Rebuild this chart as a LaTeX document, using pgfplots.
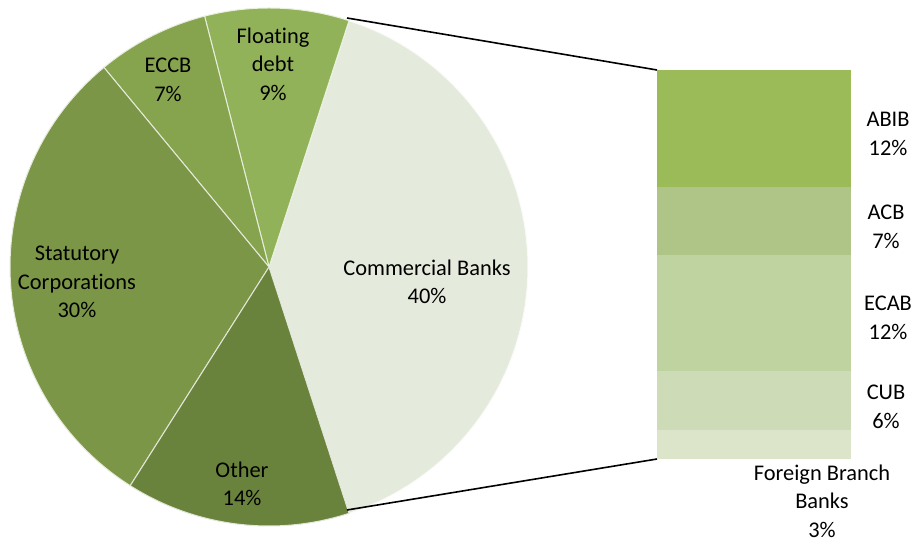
\documentclass[border=0pt]{standalone}
\usepackage{pgfplots}
\pgfplotsset{compat=1.18}
\usepackage{fontspec}
\setmainfont[Ligatures={NoCommon}]{Carlito}

\definecolor{cComm}{HTML}{E5EBDC}
\definecolor{cFloat}{HTML}{92B25A}
\definecolor{cECCB}{HTML}{86A34E}
\definecolor{cStat}{HTML}{7B9646}
\definecolor{cOther}{HTML}{6A833C}
\definecolor{cABIB}{HTML}{9BBB59}
\definecolor{cACB}{HTML}{AEC587}
\definecolor{cECAB}{HTML}{BFD3A0}
\definecolor{cCUB}{HTML}{CDDCB7}
\definecolor{cFor}{HTML}{DCE5CA}

% pie shares (percent), counter-clockwise from the Commercial Banks slice
\def\vComm{40}
\def\vFloat{9}
\def\vECCB{7}
\def\vStat{30}
\def\vOther{14}

% one wedge: start angle, share, colour
\newcommand{\pieslice}[3]{%
  \pgfmathsetmacro{\aEnd}{#1+3.6*#2}%
  \addplot[fill=#3, draw=white!80!#3, line width=0.5pt, domain=#1:\aEnd, samples=80]
    ({269+259*cos(x)}, {274+259*sin(x)}) -- (axis cs:269,274) -- cycle;
}

\begin{document}
\begin{tikzpicture}
\begin{axis}[
  name=pie, at={(0pt,0pt)}, anchor=south west,
  scale only axis, hide axis,
  x=0.5pt, y=0.5pt,
  xmin=0, xmax=919, ymin=0, ymax=541,
  clip=false,
  nodes={font=\fontsize{11.2}{14.2}\selectfont, align=center, text=black},
]
\path (axis cs:0,0) rectangle (axis cs:919,541);
\pgfmathsetmacro{\aA}{-1.8*\vComm}
\pgfmathsetmacro{\aB}{\aA+3.6*\vComm}
\pgfmathsetmacro{\aC}{\aB+3.6*\vFloat}
\pgfmathsetmacro{\aD}{\aC+3.6*\vECCB}
\pgfmathsetmacro{\aE}{\aD+3.6*\vStat}
\pieslice{\aA}{\vComm}{cComm}
\pieslice{\aB}{\vFloat}{cFloat}
\pieslice{\aC}{\vECCB}{cECCB}
\pieslice{\aD}{\vStat}{cStat}
\pieslice{\aE}{\vOther}{cOther}

% connector lines to the bar
\addplot[black, line width=0.8pt] coordinates {(347,523) (657,471)};
\addplot[black, line width=0.8pt] coordinates {(347,31) (657,82)};

\node at (axis cs:273,477) {Floating\\debt\\9\%};
\node at (axis cs:168,461) {ECCB\\7\%};
\node at (axis cs:77,259) {Statutory\\Corporations\\30\%};
\node at (axis cs:242,57) {Other\\14\%};
\node at (axis cs:427,259) {Commercial Banks\\40\%};

\node at (axis cs:888,407) {ABIB\\12\%};
\node at (axis cs:886,314) {ACB\\7\%};
\node at (axis cs:888,223) {ECAB\\12\%};
\node at (axis cs:886,134) {CUB\\6\%};
\node at (axis cs:822,40) {Foreign Branch\\Banks\\3\%};
\end{axis}

\begin{axis}[
  at={(328.5pt,41pt)}, anchor=south west,
  scale only axis, hide axis,
  width=97pt, height=194.5pt,
  xmin=-0.5, xmax=0.5, ymin=0, ymax=40,
  ybar stacked, bar width=97pt,
]
\addplot[fill=cFor, draw=none] coordinates {(0,3)};
\addplot[fill=cCUB, draw=none] coordinates {(0,6)};
\addplot[fill=cECAB, draw=none] coordinates {(0,12)};
\addplot[fill=cACB, draw=none] coordinates {(0,7)};
\addplot[fill=cABIB, draw=none] coordinates {(0,12)};
\end{axis}
\end{tikzpicture}
\end{document}
